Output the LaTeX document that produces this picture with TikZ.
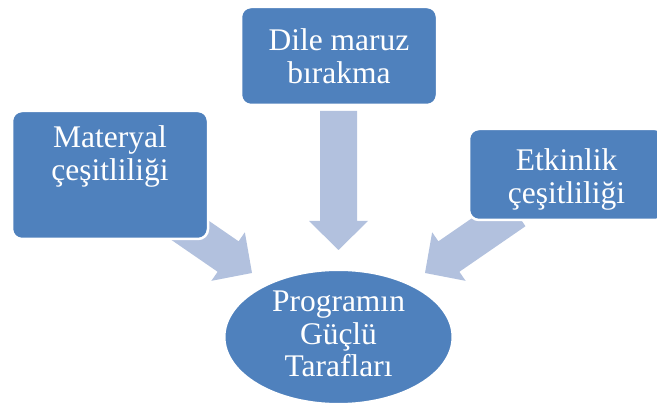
\documentclass[tikz,border=0pt]{standalone}
\usepackage{fontspec}
\setmainfont{Liberation Serif}
\usetikzlibrary{calc,shapes.geometric}

\definecolor{boxblue}{RGB}{79,129,189}
\definecolor{arrowblue}{RGB}{178,193,222}

\tikzset{
  card/.style={fill=boxblue, draw=white, line width=2.5pt,
    rounded corners=10pt, inner sep=0pt, minimum width=196pt},
  hub/.style={ellipse, fill=boxblue, draw=white, line width=2pt,
    inner sep=0pt, minimum width=228pt, minimum height=134pt},
  cardtext/.style={anchor=north, inner sep=0pt, align=center, text=white,
    font=\fontsize{31.5}{32.5}\selectfont},
}

% wide block arrow from #1 (tail centre) to #2 (tip)
\newcommand\blockarrow[2]{%
  \coordinate (hb) at ($(#2)!29pt!(#1)$);
  \fill[arrowblue]
    ($(#1)!18.5pt!90:(#2)$) -- ($(hb)!18.5pt!90:(#2)$) --
    ($(hb)!29.5pt!90:(#2)$) -- (#2) --
    ($(hb)!29.5pt!-90:(#2)$) -- ($(hb)!18.5pt!-90:(#2)$) --
    ($(#1)!18.5pt!-90:(#2)$) -- cycle;
}

\begin{document}
\begin{tikzpicture}[x=1pt, y=-1pt]
  \useasboundingbox (0,0) rectangle (657,403);

  % arrow ends
  \coordinate (tailL) at (162,211);
  \coordinate (tipL)  at (252,273);
  \coordinate (tailT) at (338.5,111);
  \coordinate (tipT)  at (338.5,250);
  \coordinate (tailR) at (515,211);
  \coordinate (tipR)  at (425,273);

  % arrows lie beneath the boxes
  \blockarrow{tailL}{tipL}
  \blockarrow{tailT}{tipT}
  \blockarrow{tailR}{tipR}

  % boxes
  \node[card, minimum height=128pt] (mat) at (110,175) {};
  \node[card, minimum height=98pt]  (dil) at (339,56) {};
  \node[card, minimum height=91pt]  (etk) at (567,174.5) {};

  % centre
  \node[hub] (prog) at (338.5,337) {};

  % labels
  \node[cardtext] (matT)  at (110,125.5) {Materyal\\çeşitliliği};
  \node[cardtext] (dilT)  at (339,28.5)  {Dile maruz\\bırakma};
  \node[cardtext] (etkT)  at (566.5,148.5) {Etkinlik\\çeşitliliği};
  \node[cardtext] (progT) at (338.5,291) {Programın\\Güçlü\\Tarafları};
\end{tikzpicture}
\end{document}
